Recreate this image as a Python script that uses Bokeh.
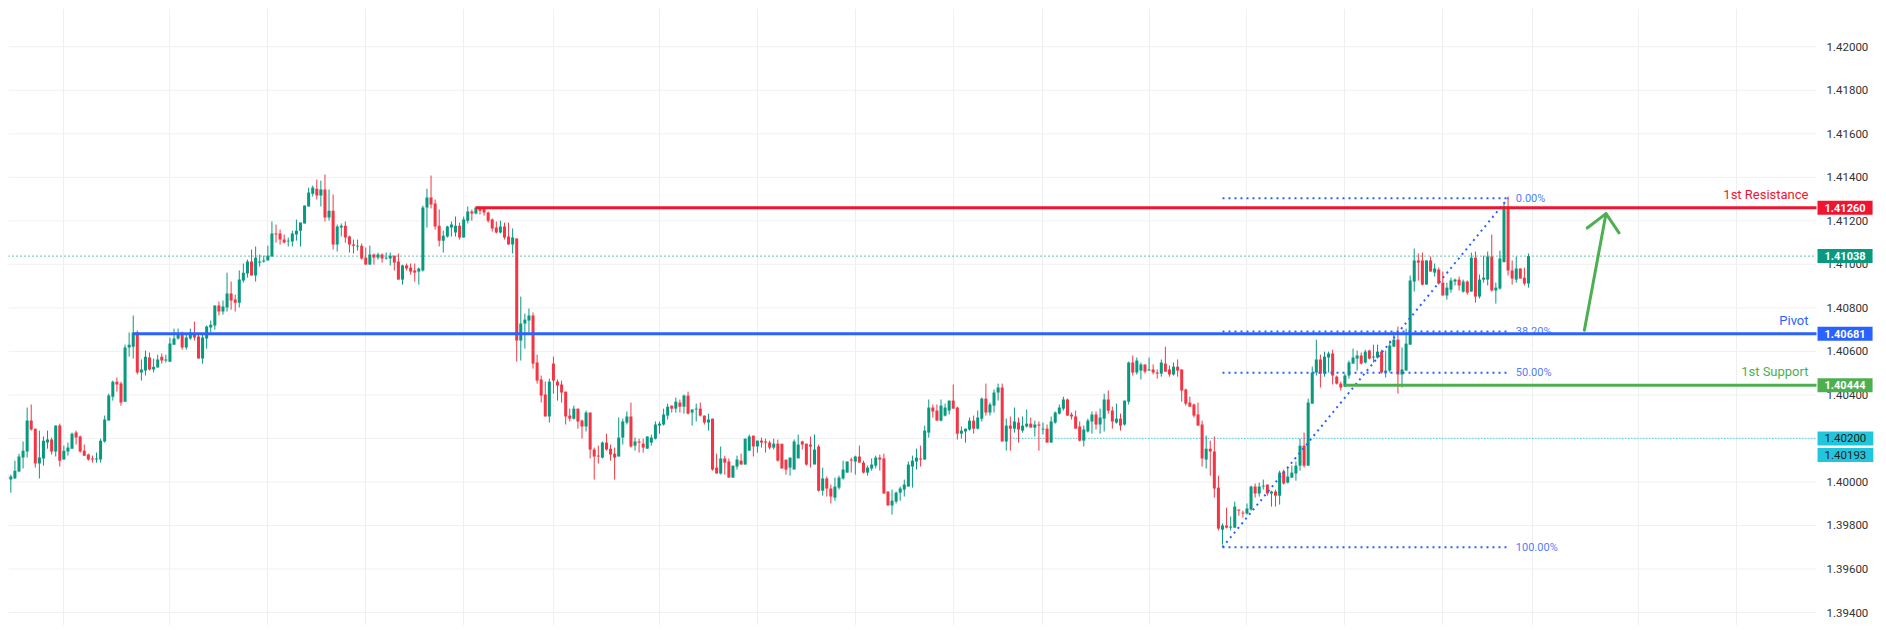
from bokeh.plotting import figure
from bokeh.models import ColumnDataSource, Range1d, LinearAxis, FixedTicker, NumeralTickFormatter, Label
from bokeh.core.properties import value
from bokeh.embed import file_html
from bokeh.resources import INLINE

opens = [1.40037,1.40011,1.40016,1.40048,1.40112,1.40140,1.40282,1.40245,1.40085,1.40108,
1.40181,1.40195,1.40140,1.40259,1.40103,1.40140,1.40153,1.40227,1.40209,1.40144,
1.40126,1.40108,1.40103,1.40103,1.40186,1.40282,1.40392,1.40461,1.40452,1.40369,
1.40618,1.40622,1.40687,1.40503,1.40512,1.40572,1.40517,1.40526,1.40576,1.40558,
1.40553,1.40631,1.40659,1.40677,1.40618,1.40659,1.40682,1.40668,1.40567,1.40659,
1.40710,1.40719,1.40811,1.40783,1.40802,1.40866,1.40838,1.40824,1.40926,1.40958,
1.41013,1.40949,1.41008,1.41013,1.41018,1.41036,1.41142,1.41142,1.41114,1.41105,
1.41105,1.41137,1.41155,1.41188,1.41266,1.41325,1.41348,1.41316,1.41344,1.41215,
1.41247,1.41091,1.41169,1.41178,1.41128,1.41091,1.41082,1.41086,1.41031,1.40999,
1.41045,1.41031,1.41045,1.41027,1.41027,1.41040,1.41013,1.40930,1.40995,1.40985,
1.40972,1.40967,1.40972,1.41261,1.41307,1.41280,1.41178,1.41109,1.41128,1.41169,
1.41146,1.41178,1.41123,1.41201,1.41243,1.41234,1.41261,1.41257,1.41238,1.41206,
1.41169,1.41146,1.41174,1.41128,1.41091,1.41119,1.40650,1.40728,1.40742,1.40765,
1.40549,1.40471,1.40402,1.40301,1.40544,1.40461,1.40448,1.40415,1.40305,1.40291,
1.40337,1.40282,1.40255,1.40319,1.40149,1.40121,1.40112,1.40181,1.40153,1.40130,
1.40117,1.40204,1.40273,1.40301,1.40167,1.40186,1.40176,1.40153,1.40181,1.40199,
1.40259,1.40264,1.40305,1.40351,1.40337,1.40365,1.40346,1.40397,1.40319,1.40333,
1.40337,1.40305,1.40273,1.40291,1.40066,1.40039,1.40108,1.40094,1.40020,1.40071,
1.40098,1.40080,1.40144,1.40213,1.40163,1.40190,1.40186,1.40181,1.40158,1.40176,
1.40176,1.40103,1.40066,1.40057,1.40108,1.40186,1.40176,1.40172,1.40080,1.40163,
1.39960,1.40016,1.39970,1.39928,1.39974,1.40016,1.40043,1.40103,1.40094,1.40117,
1.40089,1.40043,1.40062,1.40075,1.40112,1.40108,1.39956,1.39892,1.39910,1.39951,
1.39965,1.39979,1.40071,1.40094,1.40108,1.40103,1.40227,1.40342,1.40328,1.40282,
1.40305,1.40328,1.40374,1.40342,1.40222,1.40232,1.40241,1.40282,1.40245,1.40291,
1.40383,1.40319,1.40351,1.40411,1.40434,1.40186,1.40259,1.40245,1.40273,1.40236,
1.40255,1.40268,1.40250,1.40264,1.40241,1.40245,1.40181,1.40273,1.40314,1.40337,
1.40379,1.40310,1.40301,1.40255,1.40190,1.40232,1.40278,1.40310,1.40264,1.40291,
1.40379,1.40328,1.40273,1.40291,1.40264,1.40369,1.40549,1.40503,1.40512,1.40540,
1.40512,1.40517,1.40503,1.40498,1.40544,1.40517,1.40494,1.40530,1.40517,1.40425,
1.40365,1.40356,1.40310,1.40264,1.40103,1.40153,1.40140,1.39974,1.39781,1.39800,
1.39790,1.39790,1.39873,1.39859,1.39855,1.39873,1.39979,1.39947,1.39979,1.39988,
1.39947,1.39956,1.39937,1.40048,1.39997,1.40020,1.40039,1.40075,1.40167,1.40075,
1.40360,1.40503,1.40563,1.40498,1.40572,1.40590,1.40484,1.40452,1.40438,1.40489,
1.40544,1.40567,1.40581,1.40549,1.40604,1.40572,1.40572,1.40599,1.40503,1.40512,
1.40622,1.40654,1.40494,1.40512,1.40631,1.40921,1.41018,1.41018,1.40907,1.41018,
1.40962,1.40976,1.40916,1.40857,1.40884,1.40921,1.40930,1.40875,1.40921,1.40875,
1.41031,1.40852,1.40930,1.40930,1.41036,1.40880,1.40889,1.41010,1.41266,1.40972,
1.40930,1.40981,1.40939,1.40912]

highs = [1.40037,1.40034,1.40098,1.40130,1.40186,1.40342,1.40356,1.40245,1.40236,1.40209,
1.40236,1.40204,1.40259,1.40268,1.40167,1.40181,1.40227,1.40236,1.40213,1.40172,
1.40130,1.40121,1.40135,1.40199,1.40305,1.40406,1.40466,1.40480,1.40461,1.40631,
1.40687,1.40765,1.40696,1.40563,1.40604,1.40595,1.40567,1.40585,1.40590,1.40585,
1.40664,1.40705,1.40705,1.40691,1.40677,1.40705,1.40737,1.40682,1.40677,1.40719,
1.40742,1.40811,1.40829,1.40834,1.40962,1.40921,1.40861,1.40972,1.41004,1.41022,
1.41068,1.41082,1.41045,1.41040,1.41086,1.41197,1.41183,1.41160,1.41137,1.41123,
1.41155,1.41206,1.41192,1.41270,1.41353,1.41362,1.41390,1.41385,1.41413,1.41344,
1.41321,1.41183,1.41188,1.41197,1.41132,1.41114,1.41114,1.41096,1.41077,1.41086,
1.41050,1.41054,1.41050,1.41054,1.41054,1.41040,1.41050,1.40999,1.41004,1.41004,
1.41004,1.40985,1.41270,1.41348,1.41408,1.41298,1.41252,1.41155,1.41178,1.41197,
1.41220,1.41192,1.41220,1.41266,1.41252,1.41266,1.41266,1.41261,1.41243,1.41211,
1.41197,1.41201,1.41192,1.41192,1.41165,1.41119,1.40852,1.40774,1.40797,1.40779,
1.40585,1.40489,1.40461,1.40475,1.40576,1.40471,1.40466,1.40415,1.40337,1.40351,
1.40337,1.40287,1.40328,1.40319,1.40158,1.40167,1.40186,1.40222,1.40172,1.40158,
1.40296,1.40291,1.40324,1.40365,1.40204,1.40199,1.40199,1.40209,1.40218,1.40278,
1.40278,1.40337,1.40360,1.40351,1.40388,1.40379,1.40402,1.40415,1.40333,1.40360,
1.40365,1.40305,1.40314,1.40291,1.40130,1.40163,1.40121,1.40108,1.40075,1.40121,
1.40130,1.40199,1.40218,1.40213,1.40190,1.40204,1.40199,1.40190,1.40199,1.40195,
1.40117,1.40080,1.40112,1.40195,1.40218,1.40190,1.40176,1.40209,1.40218,1.40172,
1.40066,1.40025,1.39988,1.40020,1.40029,1.40098,1.40094,1.40112,1.40121,1.40167,
1.40098,1.40075,1.40108,1.40121,1.40126,1.40130,1.39956,1.39965,1.39956,1.39979,
1.40011,1.40094,1.40121,1.40153,1.40167,1.40259,1.40379,1.40356,1.40356,1.40379,
1.40360,1.40374,1.40448,1.40346,1.40255,1.40245,1.40296,1.40305,1.40328,1.40388,
1.40452,1.40365,1.40425,1.40452,1.40452,1.40291,1.40301,1.40342,1.40296,1.40301,
1.40333,1.40296,1.40282,1.40278,1.40273,1.40264,1.40301,1.40324,1.40356,1.40392,
1.40383,1.40319,1.40328,1.40278,1.40259,1.40291,1.40324,1.40324,1.40337,1.40406,
1.40420,1.40346,1.40360,1.40314,1.40374,1.40553,1.40581,1.40572,1.40549,1.40540,
1.40572,1.40540,1.40517,1.40563,1.40622,1.40535,1.40549,1.40563,1.40517,1.40429,
1.40392,1.40360,1.40365,1.40282,1.40213,1.40190,1.40209,1.40029,1.39809,1.39882,
1.39841,1.39910,1.39873,1.39868,1.39901,1.39983,1.39993,1.39997,1.40011,1.39988,
1.39960,1.39965,1.40052,1.40057,1.40071,1.40075,1.40094,1.40199,1.40227,1.40383,
1.40530,1.40654,1.40585,1.40599,1.40599,1.40608,1.40489,1.40461,1.40498,1.40558,
1.40613,1.40604,1.40595,1.40608,1.40608,1.40631,1.40631,1.40608,1.40604,1.40650,
1.40691,1.40714,1.40618,1.40705,1.40949,1.41073,1.41050,1.41054,1.41018,1.41036,
1.41004,1.40985,1.40967,1.40916,1.40939,1.40935,1.40944,1.40930,1.40926,1.41054,
1.41059,1.40953,1.41040,1.41059,1.41137,1.40916,1.41063,1.41286,1.41312,1.41018,
1.41036,1.40981,1.40985,1.41050]

lows = [1.40014,1.39951,1.40016,1.40045,1.40062,1.40112,1.40236,1.40066,1.40016,1.40075,
1.40153,1.40126,1.40117,1.40071,1.40103,1.40121,1.40153,1.40172,1.40135,1.40121,
1.40098,1.40089,1.40089,1.40089,1.40181,1.40282,1.40374,1.40415,1.40351,1.40369,
1.40576,1.40567,1.40494,1.40466,1.40489,1.40512,1.40503,1.40526,1.40544,1.40549,
1.40553,1.40631,1.40654,1.40608,1.40608,1.40654,1.40650,1.40567,1.40544,1.40613,
1.40687,1.40700,1.40765,1.40769,1.40783,1.40792,1.40783,1.40802,1.40916,1.40939,
1.40949,1.40921,1.40990,1.41008,1.41018,1.41036,1.41100,1.41091,1.41096,1.41082,
1.41082,1.41109,1.41082,1.41188,1.41266,1.41312,1.41298,1.41266,1.41197,1.41201,
1.41068,1.41059,1.41128,1.41100,1.41054,1.41050,1.41063,1.41022,1.40999,1.40999,
1.40999,1.41022,1.41008,1.41022,1.40995,1.40972,1.40930,1.40907,1.40972,1.40953,
1.40921,1.40907,1.40967,1.41169,1.41257,1.41160,1.41082,1.41054,1.41123,1.41128,
1.41128,1.41114,1.41123,1.41188,1.41201,1.41229,1.41229,1.41224,1.41192,1.41151,
1.41142,1.41142,1.41114,1.41091,1.41050,1.40553,1.40558,1.40613,1.40687,1.40521,
1.40452,1.40365,1.40301,1.40273,1.40406,1.40374,1.40365,1.40264,1.40278,1.40287,
1.40245,1.40199,1.40232,1.40108,1.40011,1.40085,1.40108,1.40144,1.40098,1.40011,
1.40117,1.40172,1.40264,1.40158,1.40144,1.40135,1.40135,1.40153,1.40167,1.40195,
1.40222,1.40259,1.40287,1.40319,1.40319,1.40319,1.40314,1.40310,1.40259,1.40278,
1.40301,1.40264,1.40236,1.40052,1.40039,1.40034,1.40034,1.40020,1.40020,1.40057,
1.40080,1.40080,1.40144,1.40117,1.40135,1.40158,1.40135,1.40149,1.40149,1.40094,
1.40062,1.40034,1.40029,1.40062,1.40149,1.40149,1.40075,1.40066,1.40144,1.39956,
1.39937,1.39933,1.39901,1.39914,1.39965,1.40011,1.40043,1.40043,1.40034,1.40089,
1.40039,1.40029,1.40052,1.40062,1.40052,1.39947,1.39892,1.39850,1.39901,1.39914,
1.39933,1.39979,1.39974,1.40057,1.40071,1.40103,1.40204,1.40296,1.40282,1.40278,
1.40301,1.40310,1.40337,1.40195,1.40199,1.40181,1.40236,1.40222,1.40241,1.40278,
1.40305,1.40305,1.40319,1.40374,1.40186,1.40144,1.40144,1.40227,1.40181,1.40227,
1.40250,1.40250,1.40209,1.40144,1.40218,1.40181,1.40181,1.40268,1.40310,1.40328,
1.40305,1.40287,1.40245,1.40186,1.40163,1.40227,1.40222,1.40241,1.40222,1.40232,
1.40314,1.40245,1.40268,1.40236,1.40259,1.40356,1.40489,1.40494,1.40471,1.40498,
1.40512,1.40494,1.40475,1.40484,1.40507,1.40484,1.40489,1.40484,1.40369,1.40351,
1.40346,1.40296,1.40259,1.40071,1.40062,1.40029,1.39928,1.39777,1.39712,1.39786,
1.39777,1.39790,1.39845,1.39836,1.39850,1.39868,1.39928,1.39933,1.39965,1.39937,
1.39887,1.39887,1.39896,1.39988,1.39993,1.40020,1.40006,1.40052,1.40066,1.40075,
1.40360,1.40489,1.40434,1.40484,1.40503,1.40448,1.40448,1.40420,1.40438,1.40475,
1.40544,1.40512,1.40540,1.40544,1.40563,1.40549,1.40567,1.40498,1.40480,1.40503,
1.40622,1.40406,1.40434,1.40512,1.40631,1.40875,1.40926,1.40903,1.40907,1.40967,
1.40944,1.40907,1.40857,1.40838,1.40870,1.40903,1.40880,1.40870,1.40861,1.40875,
1.40824,1.40843,1.40916,1.40903,1.40875,1.40820,1.40884,1.41010,1.40949,1.40907,
1.40916,1.40935,1.40903,1.40893]

closes = [1.40014,1.40025,1.40052,1.40117,1.40144,1.40282,1.40241,1.40085,1.40112,1.40190,
1.40195,1.40140,1.40259,1.40098,1.40144,1.40158,1.40222,1.40204,1.40140,1.40121,
1.40103,1.40103,1.40108,1.40190,1.40287,1.40397,1.40461,1.40448,1.40365,1.40618,
1.40631,1.40687,1.40503,1.40517,1.40576,1.40517,1.40530,1.40563,1.40558,1.40563,
1.40636,1.40659,1.40677,1.40618,1.40664,1.40687,1.40664,1.40567,1.40664,1.40714,
1.40723,1.40811,1.40783,1.40806,1.40866,1.40834,1.40824,1.40930,1.40962,1.41013,
1.40949,1.41031,1.41013,1.41018,1.41040,1.41142,1.41137,1.41114,1.41100,1.41109,
1.41142,1.41155,1.41192,1.41270,1.41330,1.41353,1.41316,1.41344,1.41215,1.41247,
1.41091,1.41174,1.41178,1.41123,1.41091,1.41086,1.41086,1.41027,1.40999,1.41045,
1.41031,1.41045,1.41027,1.41031,1.41040,1.41008,1.40930,1.40995,1.40981,1.40967,
1.40962,1.40981,1.41261,1.41307,1.41275,1.41174,1.41109,1.41132,1.41174,1.41183,
1.41178,1.41123,1.41206,1.41243,1.41234,1.41261,1.41247,1.41238,1.41201,1.41165,
1.41146,1.41174,1.41123,1.41091,1.41123,1.40650,1.40728,1.40746,1.40765,1.40544,
1.40466,1.40397,1.40301,1.40461,1.40466,1.40443,1.40411,1.40301,1.40291,1.40337,
1.40278,1.40255,1.40319,1.40149,1.40117,1.40117,1.40181,1.40149,1.40126,1.40112,
1.40204,1.40278,1.40301,1.40163,1.40186,1.40181,1.40158,1.40209,1.40204,1.40264,
1.40268,1.40310,1.40346,1.40337,1.40369,1.40346,1.40397,1.40314,1.40333,1.40337,
1.40305,1.40273,1.40287,1.40057,1.40039,1.40108,1.40089,1.40020,1.40075,1.40103,
1.40080,1.40199,1.40209,1.40163,1.40190,1.40181,1.40181,1.40158,1.40176,1.40098,
1.40062,1.40057,1.40112,1.40186,1.40172,1.40172,1.40080,1.40163,1.40149,1.39960,
1.40016,1.39970,1.39933,1.39979,1.40020,1.40057,1.40094,1.40098,1.40117,1.40089,
1.40043,1.40066,1.40080,1.40112,1.40103,1.39947,1.39892,1.39914,1.39951,1.39970,
1.39988,1.40080,1.40098,1.40112,1.40103,1.40236,1.40342,1.40324,1.40282,1.40351,
1.40342,1.40374,1.40337,1.40222,1.40236,1.40245,1.40282,1.40245,1.40296,1.40383,
1.40319,1.40356,1.40411,1.40434,1.40186,1.40259,1.40245,1.40278,1.40241,1.40259,
1.40268,1.40250,1.40264,1.40259,1.40245,1.40181,1.40278,1.40319,1.40342,1.40379,
1.40305,1.40301,1.40245,1.40190,1.40241,1.40282,1.40310,1.40264,1.40296,1.40379,
1.40328,1.40278,1.40291,1.40259,1.40374,1.40549,1.40503,1.40558,1.40540,1.40507,
1.40517,1.40503,1.40498,1.40549,1.40507,1.40494,1.40530,1.40512,1.40420,1.40360,
1.40346,1.40305,1.40259,1.40108,1.40153,1.40140,1.39970,1.39786,1.39800,1.39790,
1.39795,1.39887,1.39868,1.39855,1.39878,1.39979,1.39947,1.39979,1.39983,1.39947,
1.39956,1.39937,1.40043,1.39993,1.40025,1.40043,1.40075,1.40167,1.40075,1.40365,
1.40503,1.40563,1.40498,1.40576,1.40590,1.40489,1.40452,1.40434,1.40489,1.40549,
1.40572,1.40581,1.40544,1.40599,1.40567,1.40576,1.40599,1.40503,1.40512,1.40627,
1.40654,1.40494,1.40517,1.40636,1.40926,1.41018,1.41008,1.40907,1.41018,1.40967,
1.40981,1.40912,1.40857,1.40893,1.40926,1.40930,1.40903,1.40921,1.40870,1.41031,
1.40852,1.40930,1.40939,1.41036,1.40880,1.40893,1.41027,1.41266,1.40972,1.40935,
1.40981,1.40935,1.40912,1.41038]

axis_ticks = [1.394,1.396,1.398,1.400,1.402,1.404,1.406,1.408,1.410,1.412,1.414,1.416,1.418,1.420]
time_ticks = [14,40,64,88,112,134,160,184,208,232,254,280,304,328,352,374,400,424]

level_names = ["1st Resistance", "Pivot", "1st Support"]
level_prices = [1.41260, 1.40681, 1.40444]
level_starts = [115, 31, 328]
level_colors = ["#f0142f", "#2962ff", "#4caf50"]

last_price = 1.41038
alert_price = 1.40200
alert_start = 246
second_alert = 1.40193

fib_start = 298
fib_end = 368
fib_low = 1.39700
fib_high = 1.41304
fib_names = ["0.00%", "38.20%", "50.00%", "100.00%"]
fib_prices = [1.41304, 1.40691, 1.40502, 1.39700]

arrow_shaft_x = [386.7, 392.0]
arrow_shaft_y = [1.40697, 1.41233]
arrow_head_x = [387.4, 392.0, 395.2]
arrow_head_y = [1.41167, 1.41233, 1.41145]

n = min(len(opens), len(highs), len(lows), len(closes))
UP, DOWN = "#089981", "#f23645"
X_MIN, X_MAX, X_EDGE = 0.429, 443.6, 458.797
FONT = value("Roboto")

up = {k: [] for k in "xtbhl"}
down = {k: [] for k in "xtbhl"}
for i in range(n):
    o, h, l, c = opens[i], highs[i], lows[i], closes[i]
    d = up if c >= o else down
    d["x"].append(i); d["t"].append(max(o, c)); d["b"].append(min(o, c)); d["h"].append(h); d["l"].append(l)

p = figure(width=1878, height=625, output_backend="svg", toolbar_location=None,
           x_range=Range1d(X_MIN, X_EDGE), y_range=Range1d(1.393404, 1.421759),
           min_border_left=8, min_border_right=0, min_border_top=8, min_border_bottom=0,
           outline_line_color=None, background_fill_color="white", border_fill_color="white",
           x_axis_location=None, y_axis_location=None)

p.xgrid.ticker = FixedTicker(ticks=time_ticks)
p.xgrid.grid_line_color = "#eeeff2"
p.xgrid.grid_line_width = 1
p.ygrid.visible = False
p.segment(x0=[X_MIN] * len(axis_ticks), y0=axis_ticks, x1=[X_MAX] * len(axis_ticks), y1=axis_ticks,
          line_color="#f1f1f1", line_width=1)

axis = LinearAxis(ticker=FixedTicker(ticks=axis_ticks), formatter=NumeralTickFormatter(format="0.00000"),
                  axis_line_color=None, major_tick_line_color=None, minor_tick_line_color=None,
                  major_tick_out=0, major_tick_in=0,
                  major_label_text_color="#333333", major_label_text_font="Roboto",
                  major_label_text_font_size="11.5px", major_label_standoff=-52)
p.add_layout(axis, "right")

p.line([X_MIN, X_MAX], [last_price, last_price], line_color=UP, line_width=1.2, line_dash="1 3")
p.line([alert_start, X_MAX], [alert_price, alert_price], line_color="#22c6dc", line_width=1.2, line_dash="1 2")

for src, col in ((up, UP), (down, DOWN)):
    s = ColumnDataSource(src)
    p.segment("x", "h", "x", "l", source=s, line_color=col, line_width=1)
    p.vbar(x="x", width=0.74, top="t", bottom="b", source=s, fill_color=col, line_color=None)

p.segment(x0=[fib_start], y0=[fib_low], x1=[fib_end], y1=[fib_high], line_color="#2962ff", line_width=2, line_dash="2 4")
for price in fib_prices:
    p.line([fib_start, fib_end], [price, price], line_color="#2962ff", line_width=2, line_dash="2 4")
p.text(x=[369.9] * 4, y=fib_prices, text=fib_names, text_color="#2962ff", text_alpha=0.85,
       text_font=FONT, text_font_size="11px", text_align="left", text_baseline="middle")

for price, start, col in zip(level_prices, level_starts, level_colors):
    p.line([start, X_MAX], [price, price], line_color=col, line_width=3)
p.text(x=[X_MAX] * 3, y=level_prices, text=level_names, text_color=level_colors, x_offset=-8, y_offset=-6,
       text_font=FONT, text_font_size="13px", text_align="right", text_baseline="bottom")

p.line(arrow_shaft_x, arrow_shaft_y, line_color="#4caf50", line_width=3, line_cap="round")
p.line(arrow_head_x, arrow_head_y, line_color="#4caf50", line_width=3, line_cap="round", line_join="round")


def tag(price, color, text_color="white", shift=0):
    p.add_layout(Label(x=X_MAX + 0.25, y=price, text=f"{price:.5f}", y_offset=shift,
                       text_color=text_color, text_font="Roboto", text_font_size="11px" if text_color == "white" else "11.5px",
                       text_font_style="bold" if text_color == "white" else "normal",
                       text_align="left", text_baseline="middle",
                       background_fill_color=color, padding=(7, 3)))


tag(level_prices[0], level_colors[0])
tag(last_price, UP)
tag(level_prices[1], level_colors[1])
tag(level_prices[2], level_colors[2])
tag(second_alert, "#22c6dc", "#222222", -15)
tag(alert_price, "#22c6dc", "#222222")

open("out.html", "w").write(file_html(p, INLINE))
